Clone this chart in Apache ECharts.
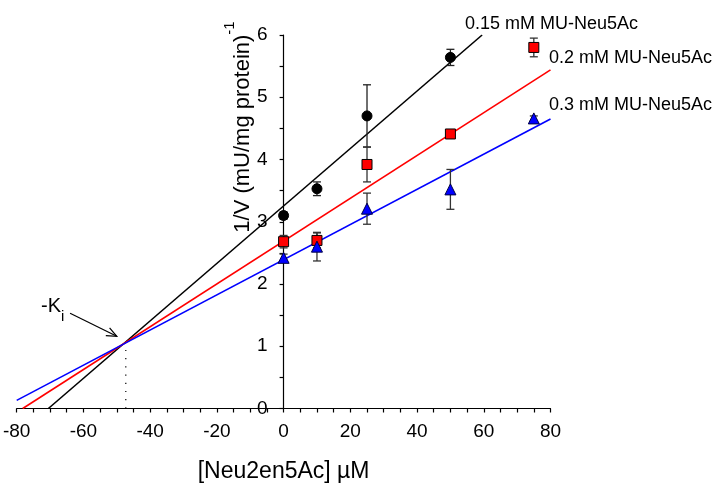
<!DOCTYPE html>
<html><head><meta charset="utf-8">
<script src="https://cdn.jsdelivr.net/npm/echarts@6/dist/echarts.min.js"></script>
<style>html,body{margin:0;padding:0;background:#fff}#c{width:712px;height:486px}</style>
</head><body><div id="c"></div>
<script>
// ---- data ----
const xValues = [0, 10, 25, 50, 75];
const series015 = [3.10, 3.53, 4.70, 5.64, null];
const error015  = [0.06, 0.11, 0.50, 0.13, null];
const series02  = [2.68, 2.70, 3.92, 4.41, 5.80];
const error02   = [0.10, 0.12, 0.28, 0.03, 0.15];
const series03  = [2.42, 2.60, 3.21, 3.52, 4.66];
const error03   = [0.06, 0.23, 0.25, 0.32, 0.04];
const fit015 = [[-70.5, 0], [59.5, 6]];
const fit02  = [[-78.2, 0], [80, 5.44]];
const fit03  = [[-80, 0.13], [80, 4.65]];
const kiDrop  = [[-47.3, 0], [-47.3, 1.05]];
const kiArrow = [[-64, 1.53], [-50, 1.16]];
const seriesNames = ['0.15 mM MU-Neu5Ac', '0.2 mM MU-Neu5Ac', '0.3 mM MU-Neu5Ac'];
const xTickLabels = [-80, -60, -40, -20, 0, 20, 40, 60, 80];
const yTickLabels = [0, 1, 2, 3, 4, 5, 6];

const FONT = "'Liberation Sans', Arial, sans-serif";
const GRID = {left: 16.7, right: 161.5, top: 35, bottom: 77.5};
const chart = echarts.init(document.getElementById('c'), null, {renderer: 'canvas'});

function pts(vals, errs) {
  const out = [];
  xValues.forEach((x, i) => { if (vals[i] != null) out.push([x, vals[i], errs[i]]); });
  return out;
}
function errorRender(color) {
  return function (params, api) {
    const x = api.value(0), y = api.value(1), e = api.value(2);
    const t = api.coord([x, y + e]), b = api.coord([x, y - e]);
    const hw = 4, st = {stroke: color, lineWidth: 1.3};
    return {type: 'group', children: [
      {type: 'line', shape: {x1: t[0], y1: t[1], x2: b[0], y2: b[1]}, style: st},
      {type: 'line', shape: {x1: t[0] - hw, y1: t[1], x2: t[0] + hw, y2: t[1]}, style: st},
      {type: 'line', shape: {x1: b[0] - hw, y1: b[1], x2: b[0] + hw, y2: b[1]}, style: st}
    ]};
  };
}
function fitSeries(data, color) {
  return {type: 'line', data: data, symbol: 'none', silent: true, z: 3,
    lineStyle: {color: color, width: 1.6}};
}
function errSeries(data, color) {
  return {type: 'custom', data: data, renderItem: errorRender(color), z: 4, silent: true,
    encode: {x: 0, y: 1}};
}
function markerSeries(data, symbol, size, color, border) {
  return {type: 'scatter', data: data.map(d => [d[0], d[1]]), symbol: symbol, symbolSize: size, z: 5,
    itemStyle: {color: color, borderColor: border, borderWidth: 1, opacity: 1}};
}

const d015 = pts(series015, error015), d02 = pts(series02, error02), d03 = pts(series03, error03);
const xMin = xTickLabels[0], xMax = xTickLabels[xTickLabels.length - 1];
const plotW = 712 - GRID.left - GRID.right;
const yAxisShift = -plotW * (0 - xMin) / (xMax - xMin);

const option = {
  animation: false,
  backgroundColor: '#fff',
  textStyle: {fontFamily: FONT},
  grid: Object.assign({containLabel: false, outerBoundsMode: 'none'}, GRID),
  xAxis: {
    type: 'value', min: xMin, max: xMax, interval: 20,
    axisLine: {onZero: false, lineStyle: {color: '#000', width: 1.2}},
    axisTick: {show: true, length: 4, lineStyle: {color: '#000', width: 1.2}},
    minorTick: {show: true, splitNumber: 4, length: 4, lineStyle: {color: '#000', width: 1.2}},
    splitLine: {show: false}, minorSplitLine: {show: false},
    axisLabel: {color: '#000', fontSize: 19, fontFamily: FONT, margin: 14},
    name: '[Neu2en5Ac] µM', nameLocation: 'middle', nameGap: 52,
    nameTextStyle: {color: '#000', fontSize: 23, fontFamily: FONT}
  },
  yAxis: {
    type: 'value', min: yTickLabels[0], max: yTickLabels[yTickLabels.length - 1], interval: 1,
    position: 'left', offset: yAxisShift,
    axisLine: {show: true, onZero: false, lineStyle: {color: '#000', width: 1.2}},
    axisTick: {show: true, length: 4, lineStyle: {color: '#000', width: 1.2}},
    minorTick: {show: true, splitNumber: 2, length: 4, lineStyle: {color: '#000', width: 1.2}},
    splitLine: {show: false}, minorSplitLine: {show: false},
    axisLabel: {color: '#000', fontSize: 19, fontFamily: FONT, margin: 16}
  },
  graphic: [
    {type: 'text', x: 238, y: 127, rotation: Math.PI / 2, z: 10,
      style: {text: '{a|1/V (mU/mg protein)}{b|-1}', align: 'center', verticalAlign: 'middle',
        fill: '#000', rich: {
          a: {fontSize: 22, fontFamily: FONT, lineHeight: 32, verticalAlign: 'bottom', fill: '#000'},
          b: {fontSize: 15, fontFamily: FONT, lineHeight: 32, verticalAlign: 'top', fill: '#000'}}}},
    {type: 'text', x: 465, y: 24, z: 10,
      style: {text: seriesNames[0], fontSize: 18, fontFamily: FONT, fill: '#000', align: 'left', verticalAlign: 'middle'}},
    {type: 'text', x: 549, y: 58, z: 10,
      style: {text: seriesNames[1], fontSize: 18, fontFamily: FONT, fill: '#000', align: 'left', verticalAlign: 'middle'}},
    {type: 'text', x: 549, y: 105, z: 10,
      style: {text: seriesNames[2], fontSize: 18, fontFamily: FONT, fill: '#000', align: 'left', verticalAlign: 'middle'}},
    {type: 'text', x: 41, y: 310, z: 10,
      style: {text: '{a|-K}{b|i}', align: 'left', verticalAlign: 'middle', fill: '#000', rich: {
        a: {fontSize: 20, fontFamily: FONT, lineHeight: 28, verticalAlign: 'top', fill: '#000'},
        b: {fontSize: 15, fontFamily: FONT, lineHeight: 28, verticalAlign: 'bottom', fill: '#000'}}}}
  ],
  series: [
    fitSeries(fit015, '#000'),
    fitSeries(fit02, '#ff0000'),
    fitSeries(fit03, '#0000ff'),
    {type: 'line', data: kiDrop, symbol: 'none', silent: true, z: 2,
      lineStyle: {color: '#000', width: 1.2, type: [1.2, 7]}},
    {type: 'custom', data: [[kiArrow[0][0], kiArrow[0][1], kiArrow[1][0], kiArrow[1][1]]], silent: true, z: 6,
      renderItem: function (params, api) {
        const p1 = api.coord([api.value(0), api.value(1)]);
        const p2 = api.coord([api.value(2), api.value(3)]);
        const ang = Math.atan2(p2[1] - p1[1], p2[0] - p1[0]);
        const L = 11, spread = 0.4;
        const a1 = [p2[0] - L * Math.cos(ang - spread), p2[1] - L * Math.sin(ang - spread)];
        const a2 = [p2[0] - L * Math.cos(ang + spread), p2[1] - L * Math.sin(ang + spread)];
        const st = {stroke: '#000', lineWidth: 1.2, fill: null};
        return {type: 'group', children: [
          {type: 'line', shape: {x1: p1[0], y1: p1[1], x2: p2[0], y2: p2[1]}, style: st},
          {type: 'polyline', shape: {points: [a1, p2, a2]}, style: st}
        ]};
      }, encode: {x: [0, 2], y: [1, 3]}},
    errSeries(d015, '#222'),
    errSeries(d02, '#333'),
    errSeries(d03, '#333'),
    markerSeries(d015, 'circle', 10, '#000', '#000'),
    markerSeries(d02, 'rect', 10, '#ff0000', '#000'),
    markerSeries(d03, 'triangle', 11, '#0000ff', '#000044')
  ]
};
chart.setOption(option);
</script></body></html>
